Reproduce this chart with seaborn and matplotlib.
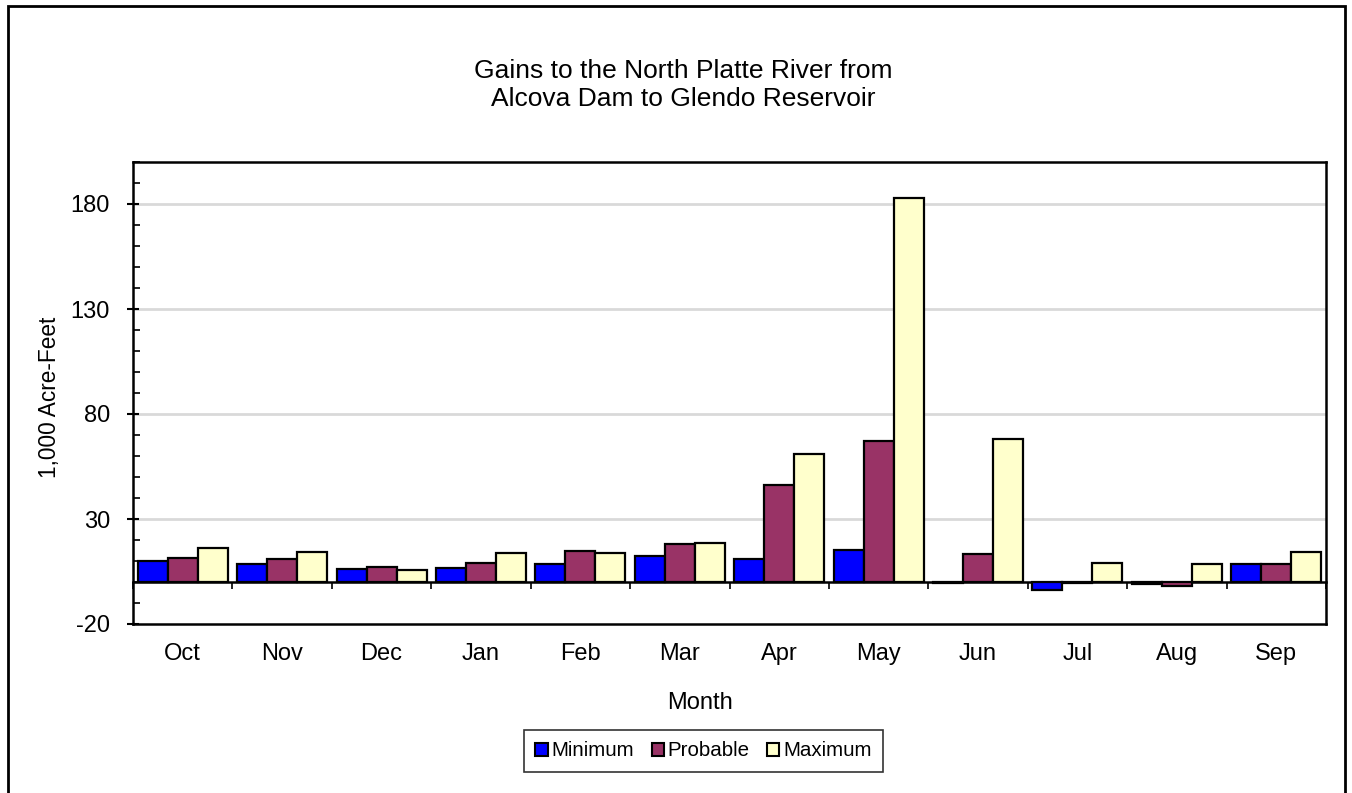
import numpy as np
import pandas as pd
import matplotlib
matplotlib.use("Agg")
import matplotlib.pyplot as plt
from matplotlib.patches import Rectangle, Patch
from matplotlib.ticker import MultipleLocator, FixedLocator
import seaborn as sns

months = ["Oct", "Nov", "Dec", "Jan", "Feb", "Mar", "Apr", "May", "Jun", "Jul", "Aug", "Sep"]
minimum = [10.1, 8.5, 6.0, 6.5, 8.5, 12.2, 10.9, 15.2, -0.5, -3.9, -1.0, 8.5]
probable = [11.5, 10.8, 7.3, 9.2, 14.9, 18.2, 46.4, 67.0, 13.3, -0.5, -1.8, 8.5]
maximum = [16.3, 14.4, 5.7, 13.8, 13.8, 18.7, 60.8, 183.0, 68.3, 9.2, 8.5, 14.4]
series_names = ["Minimum", "Probable", "Maximum"]
series_colors = ["#0000FF", "#993366", "#FFFFCC"]
y_ticks = [-20, 30, 80, 130, 180]

df = pd.DataFrame({
    "Month": months * 3,
    "Series": np.repeat(series_names, len(months)),
    "Value": minimum + probable + maximum,
})

sns.set_theme(style="white")
plt.rcParams["font.family"] = ["Liberation Sans", "DejaVu Sans"]
plt.rcParams["axes.unicode_minus"] = False
plt.rcParams["text.color"] = "black"
plt.rcParams["axes.labelcolor"] = "black"
plt.rcParams["xtick.color"] = "black"
plt.rcParams["ytick.color"] = "black"

W, H = 1352, 793
fig = plt.figure(figsize=(W / 100, H / 100), dpi=100)
ax = fig.add_axes([133 / W, 1 - 624 / H, (1326 - 133) / W, (624 - 162) / H])

ymin, ymax = -20, 200
ax.set_ylim(ymin, ymax)
for y in y_ticks[1:]:
    ax.axhline(y, color="#D9D9D9", lw=2, zorder=0)

sns.barplot(data=df, x="Month", y="Value", hue="Series", order=months,
            hue_order=series_names, palette=series_colors, width=0.905,
            saturation=1, edgecolor="black", linewidth=1.6, legend=False,
            ax=ax, zorder=2)

ax.set_xlim(-0.5, len(months) - 0.5)
ax.set_ylim(ymin, ymax)

# y axis ticks
ax.yaxis.set_major_locator(FixedLocator(y_ticks))
ax.yaxis.set_minor_locator(MultipleLocator(10))
ax.tick_params(axis="y", which="major", direction="inout", length=9, width=1.5,
               color="black", labelsize=17, pad=12, left=True)
ax.tick_params(axis="y", which="minor", direction="in", length=5, width=1.2,
               color="black", left=True)
ax.tick_params(axis="x", which="major", length=0, labelsize=17, pad=14)

for side in ["left", "right", "top", "bottom"]:
    ax.spines[side].set_visible(True)
    ax.spines[side].set_color("black")
    ax.spines[side].set_linewidth(1.8)

# category axis drawn across the zero line
zero_pos = (0 - ymin) / (ymax - ymin)
zax = ax.secondary_xaxis(zero_pos)
zax.set_xticks(np.arange(len(months) + 1) - 0.5)
zax.set_xticklabels([])
zax.tick_params(direction="out", length=5, width=1.2, color="black")
zax.spines["bottom"].set_linewidth(1.8)
zax.spines["bottom"].set_color("black")

ax.set_xlabel("Month", fontsize=17)
ax.set_ylabel("1,000 Acre-Feet", fontsize=16.3)
ax.xaxis.set_label_coords((700 - 133) / (1326 - 133), -(703 - 624) / (624 - 162),
                          transform=ax.transAxes)
ax.xaxis.label.set_va("center")
ax.yaxis.set_label_coords((50 - 133) / (1326 - 133), (624 - 397) / (624 - 162),
                          transform=ax.transAxes)
ax.yaxis.label.set_va("center")

fig.text(683 / W, 1 - 85 / H,
         "Gains to the North Platte River from\nAlcova Dam to Glendo Reservoir",
         ha="center", va="center", fontsize=19, linespacing=1.25)

handles = [Patch(facecolor=c, edgecolor="black", linewidth=1.5) for c in series_colors]
leg = fig.legend(handles, series_names, loc="center", ncol=3,
                 bbox_to_anchor=(703.5 / W, 1 - 751 / H), fontsize=14.8,
                 frameon=True, fancybox=False, handlelength=0.6, handleheight=0.6,
                 handletextpad=0.18, columnspacing=0.85, borderpad=0.55)
leg.get_frame().set_edgecolor("black")
leg.get_frame().set_linewidth(1.2)

# outer chart frame
fig.patches.append(Rectangle((8 / W, -0.05), (1345 - 8) / W, 1.05 - 6 / H,
                             transform=fig.transFigure, fill=False,
                             edgecolor="black", linewidth=2, zorder=0))

fig.savefig("out.png", dpi=100, facecolor="white")
